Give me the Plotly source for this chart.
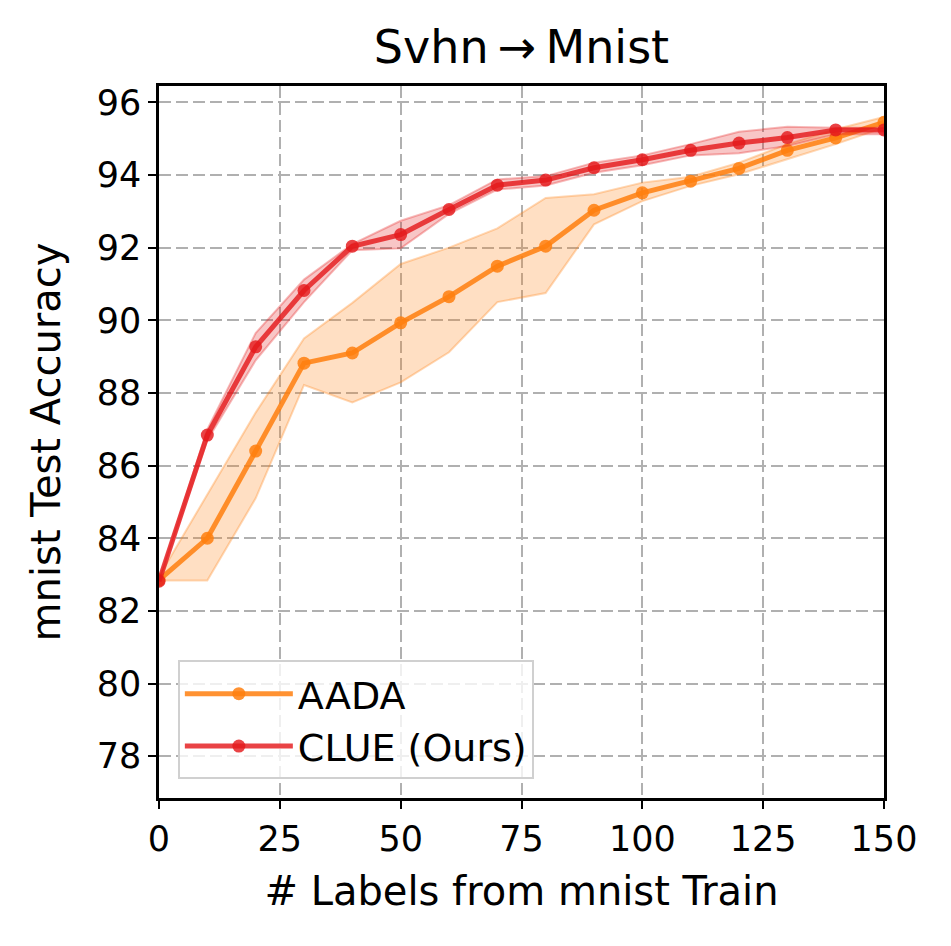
import plotly.graph_objects as go

labels = [0, 10, 20, 30, 40, 50, 60, 70, 80, 90, 100, 110, 120, 130, 140, 150]

aada_mean = [82.85, 84.0, 86.4, 88.82, 89.1, 89.93, 90.65, 91.49, 92.04, 93.03, 93.51, 93.83, 94.18, 94.68, 95.02, 95.45]
aada_low = [82.84, 82.84, 85.1, 88.22, 87.74, 88.29, 89.12, 90.5, 90.75, 92.64, 93.28, 93.7, 94.02, 94.43, 94.85, 95.3]
aada_high = [82.95, 85.2, 87.46, 89.5, 90.48, 91.55, 92.0, 92.53, 93.37, 93.47, 93.79, 93.95, 94.34, 94.85, 95.26, 95.6]

clue_mean = [82.82, 86.84, 89.27, 90.82, 92.04, 92.36, 93.05, 93.72, 93.86, 94.2, 94.42, 94.68, 94.88, 95.03, 95.24, 95.24]
clue_low = [82.8, 86.7, 88.9, 90.5, 91.93, 91.98, 92.93, 93.6, 93.71, 94.06, 94.27, 94.54, 94.6, 94.8, 95.12, 95.12]
clue_high = [82.85, 87.0, 89.65, 91.12, 92.1, 92.74, 93.17, 93.88, 93.97, 94.34, 94.54, 94.85, 95.19, 95.33, 95.3, 95.3]

y_ticks = [78, 80, 82, 84, 86, 88, 90, 92, 94, 96]
x_ticks = [0, 25, 50, 75, 100, 125, 150]

# page body has an 8px default margin, so the figure is shrunk by that much
W, H = 943, 938

fig = go.Figure()

def add_series(name, mean, low, high, line_col, fill_col, edge_col):
    fig.add_trace(go.Scatter(x=labels, y=low, mode="lines", showlegend=False,
                             line=dict(color=edge_col, width=2), hoverinfo="skip"))
    fig.add_trace(go.Scatter(x=labels, y=high, mode="lines", showlegend=False,
                             fill="tonexty", fillcolor=fill_col,
                             line=dict(color=edge_col, width=2), hoverinfo="skip"))
    fig.add_trace(go.Scatter(x=labels, y=mean, mode="lines+markers", name=name,
                             line=dict(color=line_col, width=5),
                             marker=dict(color=line_col, size=13)))

add_series("AADA", aada_mean, aada_low, aada_high,
           "rgba(255,127,14,0.85)", "rgba(255,127,14,0.25)", "rgba(255,127,14,0.3)")
add_series("CLUE (Ours)", clue_mean, clue_low, clue_high,
           "rgba(228,26,28,0.82)", "rgba(228,26,28,0.25)", "rgba(228,26,28,0.3)")

fig.update_layout(
    width=W, height=H,
    paper_bgcolor="white", plot_bgcolor="white",
    margin=dict(l=151, r=67, t=78, b=148),
    font=dict(family="DejaVu Sans", size=33, color="black"),
    title=dict(text="Svhn\u2009\u2192\u2009Mnist", x=0.5, xref="paper", xanchor="center",
               y=1 - 39 / H, yanchor="middle", font=dict(size=46)),
    legend=dict(x=0.026, y=0.026, xanchor="left", yanchor="bottom", traceorder="normal",
                bgcolor="rgba(255,255,255,0.8)", bordercolor="#d0d0d0", borderwidth=2,
                font=dict(size=38), tracegroupgap=0, itemwidth=108),
    showlegend=True,
)

fig.update_xaxes(
    range=[0, 150], tickvals=x_ticks, ticks="outside", ticklen=8, tickwidth=2, tickcolor="black",
    tickfont=dict(size=35),
    showline=True, linecolor="black", linewidth=2.5, mirror=True,
    showgrid=True, gridcolor="#b0b0b0", griddash="12px,5px", gridwidth=2, zeroline=False,
    title=dict(text="# Labels from mnist Train", standoff=20),
)
fig.update_yaxes(
    range=[76.85, 96.45], tickvals=y_ticks, ticks="outside", ticklen=8, tickwidth=2, tickcolor="black",
    tickfont=dict(size=35),
    showline=True, linecolor="black", linewidth=2.5, mirror=True,
    showgrid=True, gridcolor="#b0b0b0", griddash="12px,5px", gridwidth=2, zeroline=False,
    title=dict(text="mnist Test Accuracy", standoff=24),
)

fig.write_html("out.html")
